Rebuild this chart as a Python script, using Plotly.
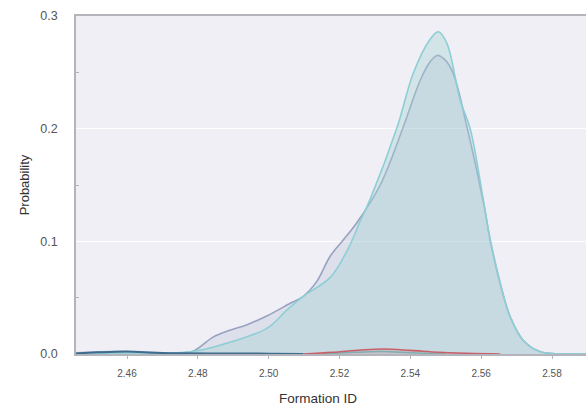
import plotly.graph_objects as go

# Series A (purple-grey density)
a_x = [2.4456, 2.452, 2.458, 2.464, 2.470, 2.475, 2.479, 2.4843, 2.489, 2.4939, 2.4996, 2.5061, 2.5097,
       2.5135, 2.5174, 2.521, 2.525, 2.5315, 2.538, 2.5428, 2.5455, 2.5476, 2.5498, 2.5521, 2.5561,
       2.5606, 2.5626, 2.5654, 2.5682, 2.5719, 2.5767, 2.5851, 2.5896]
a_y = [0.001, 0.002, 0.0022, 0.0018, 0.001, 0.001, 0.003, 0.015, 0.021, 0.026, 0.034, 0.045, 0.051,
       0.064, 0.087, 0.101, 0.117, 0.150, 0.2015, 0.243, 0.259, 0.265, 0.261, 0.249, 0.200,
       0.135, 0.100, 0.062, 0.033, 0.012, 0.002, 0.0, 0.0]

# Series B (cyan density)
b_x = [2.4456, 2.460, 2.470, 2.478, 2.4843, 2.4996, 2.5051, 2.5097, 2.5174, 2.5222, 2.526, 2.5286,
       2.5363, 2.5408, 2.5455, 2.5479, 2.5503, 2.5541, 2.5569, 2.5606, 2.5626, 2.5654, 2.5682,
       2.5719, 2.5767, 2.5851, 2.5896]
b_y = [0.0005, 0.001, 0.001, 0.002, 0.006, 0.023, 0.039, 0.051, 0.068, 0.092, 0.119, 0.137,
       0.2015, 0.249, 0.279, 0.286, 0.276, 0.225, 0.200, 0.137, 0.101, 0.063, 0.033,
       0.012, 0.002, 0.0, 0.0]

# Series C (red, small)
c_x = [2.5097, 2.518, 2.526, 2.5323, 2.540, 2.548, 2.556, 2.5654]
c_y = [0.0, 0.0015, 0.0035, 0.0044, 0.0032, 0.0015, 0.0006, 0.0]

# Series D (dark blue, small)
d_x = [2.4456, 2.452, 2.460, 2.468, 2.476, 2.490, 2.500, 2.5097]
d_y = [0.0005, 0.0015, 0.0022, 0.0012, 0.0006, 0.0004, 0.0003, 0.0]

# Series E (teal, small)
e_x = [2.515, 2.524, 2.532, 2.540, 2.550]
e_y = [0.0, 0.0015, 0.0022, 0.0012, 0.0]

fig = go.Figure()
fig.add_trace(go.Scatter(x=a_x, y=a_y, mode="lines", line=dict(color="#98A2C0", width=1.6, shape="spline", smoothing=1.0),
                         fill="tozeroy", fillcolor="rgba(160,168,200,0.22)", showlegend=False))
fig.add_trace(go.Scatter(x=b_x, y=b_y, mode="lines", line=dict(color="#8DCFD4", width=1.6, shape="spline", smoothing=1.0),
                         fill="tozeroy", fillcolor="rgba(163,211,210,0.38)", showlegend=False))
fig.add_trace(go.Scatter(x=e_x, y=e_y, mode="lines", line=dict(color="#6FC2C4", width=1.5, shape="spline"),
                         showlegend=False))
fig.add_trace(go.Scatter(x=c_x, y=c_y, mode="lines", line=dict(color="#C8606A", width=1.6, shape="spline"),
                         fill="tozeroy", fillcolor="rgba(200,96,106,0.2)", showlegend=False))
fig.add_trace(go.Scatter(x=d_x, y=d_y, mode="lines", line=dict(color="#3F6C8C", width=2, shape="spline"),
                         showlegend=False))

fig.update_layout(
    width=586, height=412,
    margin=dict(l=76, r=0, t=16, b=58),
    paper_bgcolor="white", plot_bgcolor="#EFEFF5",
    font=dict(family="Liberation Sans, Arial, sans-serif", color="#555555"),
    xaxis=dict(range=[2.4456, 2.5896], tickvals=[2.46, 2.48, 2.50, 2.52, 2.54, 2.56, 2.58],
               ticktext=["2.46", "2.48", "2.50", "2.52", "2.54", "2.56", "2.58"],
               tickfont=dict(size=10, color="#555555"), showgrid=False, zeroline=False,
               showline=True, linecolor="#B4B4BC", linewidth=1.5, mirror=True,
               ticks="outside", ticklen=3, tickcolor="#B4B4BC", ticklabelstandoff=6),
    yaxis=dict(range=[0, 0.3], tickvals=[0, 0.1, 0.2, 0.3], ticktext=["0.0", "0.1", "0.2", "0.3"],
               tickfont=dict(size=12.5, color="#555555"), showgrid=True, gridcolor="white", gridwidth=1,
               zeroline=False, showline=True, linecolor="#B4B4BC", linewidth=1.5,
               ticks="", ticklabelstandoff=14,
               minor=dict(tickvals=[0.05, 0.15, 0.25], ticks="inside", ticklen=3, tickcolor="#B4B4BC"),
               title=dict(text="Probability", font=dict(size=13, color="#333333"), standoff=8)),
    annotations=[dict(text="Formation ID", xref="paper", yref="paper", x=(318 - 76) / 510, y=-0.105,
                      xanchor="center", yanchor="top", showarrow=False,
                      font=dict(size=13.5, color="#333333"))],
)

fig.write_html("out.html")
